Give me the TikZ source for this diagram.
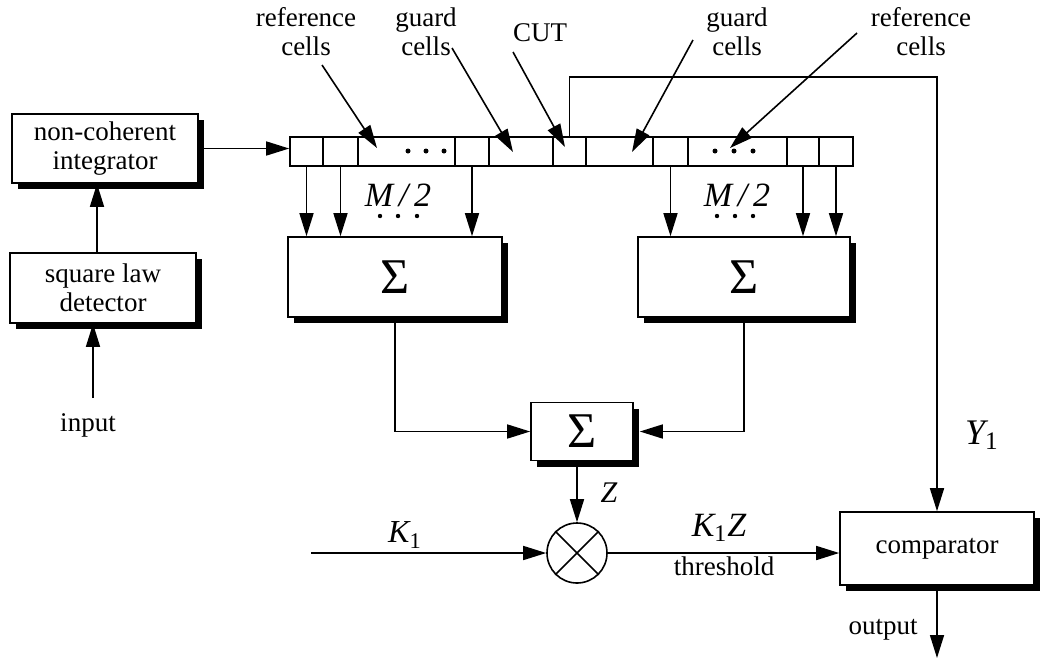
\documentclass[tikz,border=0pt]{standalone}
\usepackage{fontspec}
\setmainfont{Liberation Serif}
\usetikzlibrary{arrows.meta,calc,positioning,shadows}

\begin{document}
\begin{tikzpicture}[x=0.5pt,y=-0.5pt,>={Triangle[length=11.5pt,width=7pt]},line width=0.8pt,
  font=\fontsize{13.5}{14.5}\selectfont,
  blk/.style={draw,fill=white,inner sep=0pt,align=center,
    drop shadow={shadow xshift=3pt,shadow yshift=-3pt,fill=black,opacity=1}},
  cell/.style={draw,inner sep=0pt,minimum height=14.5pt},
  lbl/.style={align=center,inner sep=0pt},
  sig/.style={font=\fontsize{25}{26}\selectfont},
  mth/.style={font=\fontsize{17}{18}\selectfont\itshape,inner sep=0pt}]
\useasboundingbox (0,0) rectangle (1044,660);
% row of cells
\foreach \n/\xl/\w in {c1/290/33,c2/323/35,c3/358/97,c4/455/34,c5/489/64,c6/553/33,
  c7/586/67,c8/653/35,c9/688/99,c10/787/32,c11/819/34}
  \node[cell,minimum width=\w*0.5pt] (\n) at (\xl+\w/2,151.5) {};
\foreach \x in {408,426,444,715,734,753} \fill (\x,151) circle[radius=2.5];
\foreach \x in {380,398,417,717,735,753} \fill (\x,216) circle[radius=2.2];
% blocks
\node[blk,minimum width=93pt,minimum height=34.5pt] (nci) at (105,148.5) {non-coherent\\integrator};
\node[blk,minimum width=93pt,minimum height=35pt] (sld) at (103,288) {square law\\detector};
\node[blk,sig,minimum width=107pt,minimum height=40pt] (sumL) at (395,277) {Σ};
\node[blk,sig,minimum width=106pt,minimum height=40pt] (sumR) at (744,277) {Σ};
\node[blk,sig,minimum width=51pt,minimum height=29pt] (sumM) at (582,431.5) {Σ};
\node[draw,circle,minimum size=30pt,inner sep=0pt] (mult) at (577,553) {};
\draw (mult.north west) -- (mult.south east) (mult.north east) -- (mult.south west);
\node[blk,minimum width=97pt,minimum height=36.5pt] (comp) at (937,548.5) {comparator};
% labels above the cells
\node[lbl] (refL) at (306,32) {reference\\cells};
\node[lbl] (grdL) at (426,32) {guard\\cells};
\node[lbl] (cutL) at (540,33) {CUT};
\node[lbl] (grdR) at (737,32) {guard\\cells};
\node[lbl] (refR) at (921,32) {reference\\cells};
\foreach \n/\a/\b in {refL/{322,65}/{377,148},grdL/{452,48}/{513,152},cutL/{513,52}/{565,147},
  grdR/{693,40}/{632,152},refR/{857,33}/{730,148}}{
  \coordinate (\n a) at (\a);
  \coordinate (\n b) at (\b);
  \draw[->] (\n a) -- (\n b);}
% connectors
\coordinate (inp) at (93,398);
\draw[->] (inp) -- (inp |- sld.south);
\node[lbl] (inpL) at (88,425) {input};
\draw[->] ([xshift=-3pt]sld.north) -- ([xshift=-3pt]sld.north |- nci.south);
\draw[->] (nci.east) -- (nci.east -| c1.west);
\foreach \c in {c1,c2,c4} \draw[->] (\c.south) -- (\c.south |- sumL.north);
\foreach \c in {c8,c10,c11} \draw[->] (\c.south) -- (\c.south |- sumR.north);
\node[mth] (mL) at (398,195) {M\,/\,2};
\node[mth] (mR) at (737,195) {M\,/\,2};
\draw[->] (sumL.south) |- (sumM.west);
\draw[->] (sumR.south) |- ([xshift=3pt]sumM.east);
\draw[->] (sumM.south -| mult) -- (mult.north);
\node[mth,font=\fontsize{15}{16}\selectfont\itshape] (zL) at (609,493) {Z};
\coordinate (k1) at (311,553);
\draw[->] (k1) -- (mult.west);
\node[mth,font=\fontsize{16}{17}\selectfont\itshape] (k1L) at (405,535) {K\textsubscript{\upshape 1}};
\draw[->] (mult.east) -- (mult.east -| comp.west);
\node[mth] (kzL) at (719,528) {K\textsubscript{\upshape 1}Z};
\node[lbl] (thrL) at (724,566) {threshold};
\coordinate (ybend) at (937,77);
\draw[->] (c6.north) |- (ybend) -- (comp.north);
\node[mth,font=\fontsize{18}{19}\selectfont\itshape] (yL) at (982,435) {Y\textsubscript{\upshape 1}};
\coordinate (outp) at (937,658);
\draw[->] (comp.south) -- (outp);
\node[lbl] (outL) at (883,630) {output};
\end{tikzpicture}
\end{document}
